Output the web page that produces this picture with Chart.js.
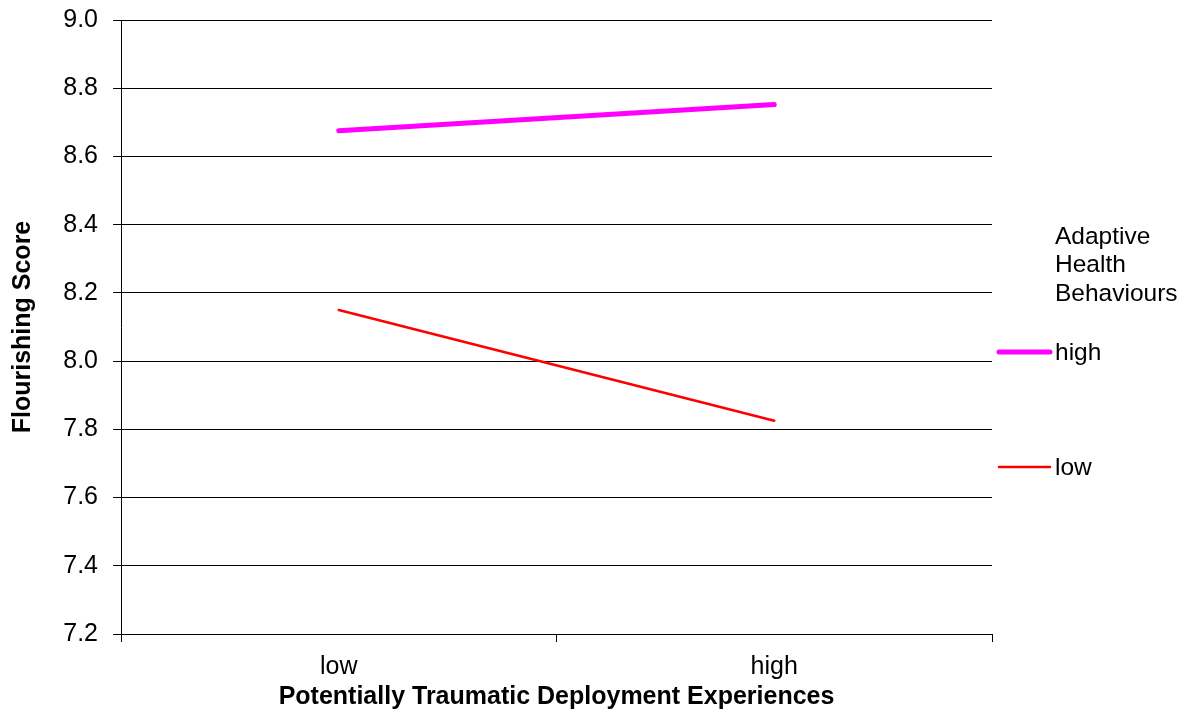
<!DOCTYPE html>
<html>
<head>
<meta charset="utf-8">
<script src="https://cdn.jsdelivr.net/npm/chart.js@4/dist/chart.umd.min.js"></script>
<style>
  html, body { margin: 0; padding: 0; background: #fff; }
  #wrap { width: 1184px; height: 712px; position: relative; }
</style>
</head>
<body>
<div id="wrap"><canvas id="c" width="1184" height="712"></canvas></div>
<script>
// Categories and series values
const categories = ['low', 'high'];
const seriesLabels = ['high', 'low'];
const highValues = [8.675, 8.752];
const lowValues = [8.15, 7.825];
const yMin = 7.2, yMax = 9.0, yStep = 0.2;
const legendTitle = ['Adaptive', 'Health', 'Behaviours'];
const xTitle = 'Potentially Traumatic Deployment Experiences';
const yTitle = 'Flourishing Score';

const FONT = '"Liberation Sans", Arial, sans-serif';
const FS = 25;

// Legend drawn at the right: a title block, then one swatch line per series
const sideLegend = {
  id: 'sideLegend',
  afterDraw(chart) {
    const ctx = chart.ctx;
    const x0 = chart.chartArea.right + 5;
    const textX = 1055;
    ctx.save();
    ctx.font = '24.5px ' + FONT;
    ctx.fillStyle = '#000';
    ctx.textBaseline = 'middle';
    ctx.textAlign = 'left';
    legendTitle.forEach((t, i) => ctx.fillText(t, textX, 237 + i * 28.5));
    const rows = [352, 467];
    chart.data.datasets.forEach((ds, i) => {
      const y = rows[i];
      ctx.strokeStyle = ds.borderColor;
      ctx.lineWidth = ds.borderWidth;
      ctx.lineCap = 'round';
      ctx.beginPath();
      ctx.moveTo(x0 + 2, y);
      ctx.lineTo(textX - 5, y);
      ctx.stroke();
      ctx.fillText(ds.label, textX, y + 1);
    });
    ctx.restore();
  }
};

new Chart(document.getElementById('c'), {
  type: 'line',
  data: {
    labels: categories,
    datasets: [
      { label: seriesLabels[0], data: highValues, borderColor: '#ff00ff', borderWidth: 5,
        pointRadius: 0, borderCapStyle: 'round', tension: 0 },
      { label: seriesLabels[1], data: lowValues, borderColor: '#ff0000', borderWidth: 2.5,
        pointRadius: 0, borderCapStyle: 'round', tension: 0 }
    ]
  },
  options: {
    responsive: false,
    animation: false,
    layout: { padding: { left: 0, right: 192, top: 20, bottom: 0 } },
    plugins: { legend: { display: false }, tooltip: { enabled: false } },
    scales: {
      x: {
        type: 'category',
        offset: true,
        grid: { offset: true, drawOnChartArea: false, drawTicks: true, tickLength: 8, color: '#000' },
        border: { display: true, color: '#000', width: 1 },
        ticks: { color: '#000', font: { family: FONT, size: FS }, padding: 10, maxRotation: 0 },
        title: { display: true, text: xTitle, color: '#000',
                 font: { family: FONT, size: FS, weight: 'bold' }, padding: { top: 0, bottom: 0 } },
        afterFit(scale) { scale.height = 78; scale.paddingLeft = 0; scale.paddingRight = 0; }
      },
      y: {
        min: yMin, max: yMax,
        grid: { color: '#000', lineWidth: 1, tickLength: 8, drawTicks: true },
        border: { display: true, color: '#000', width: 1 },
        ticks: { stepSize: yStep, color: '#000', font: { family: FONT, size: FS }, padding: 15,
                 callback: v => Number(v).toFixed(1) },
        title: { display: true, text: yTitle, color: '#000',
                 font: { family: FONT, size: FS, weight: 'bold' }, padding: { top: 8, bottom: 0 } },
        afterFit(scale) { scale.width = 121; scale.paddingTop = 0; scale.paddingBottom = 0; }
      }
    }
  },
  plugins: [sideLegend]
});
</script>
</body>
</html>
